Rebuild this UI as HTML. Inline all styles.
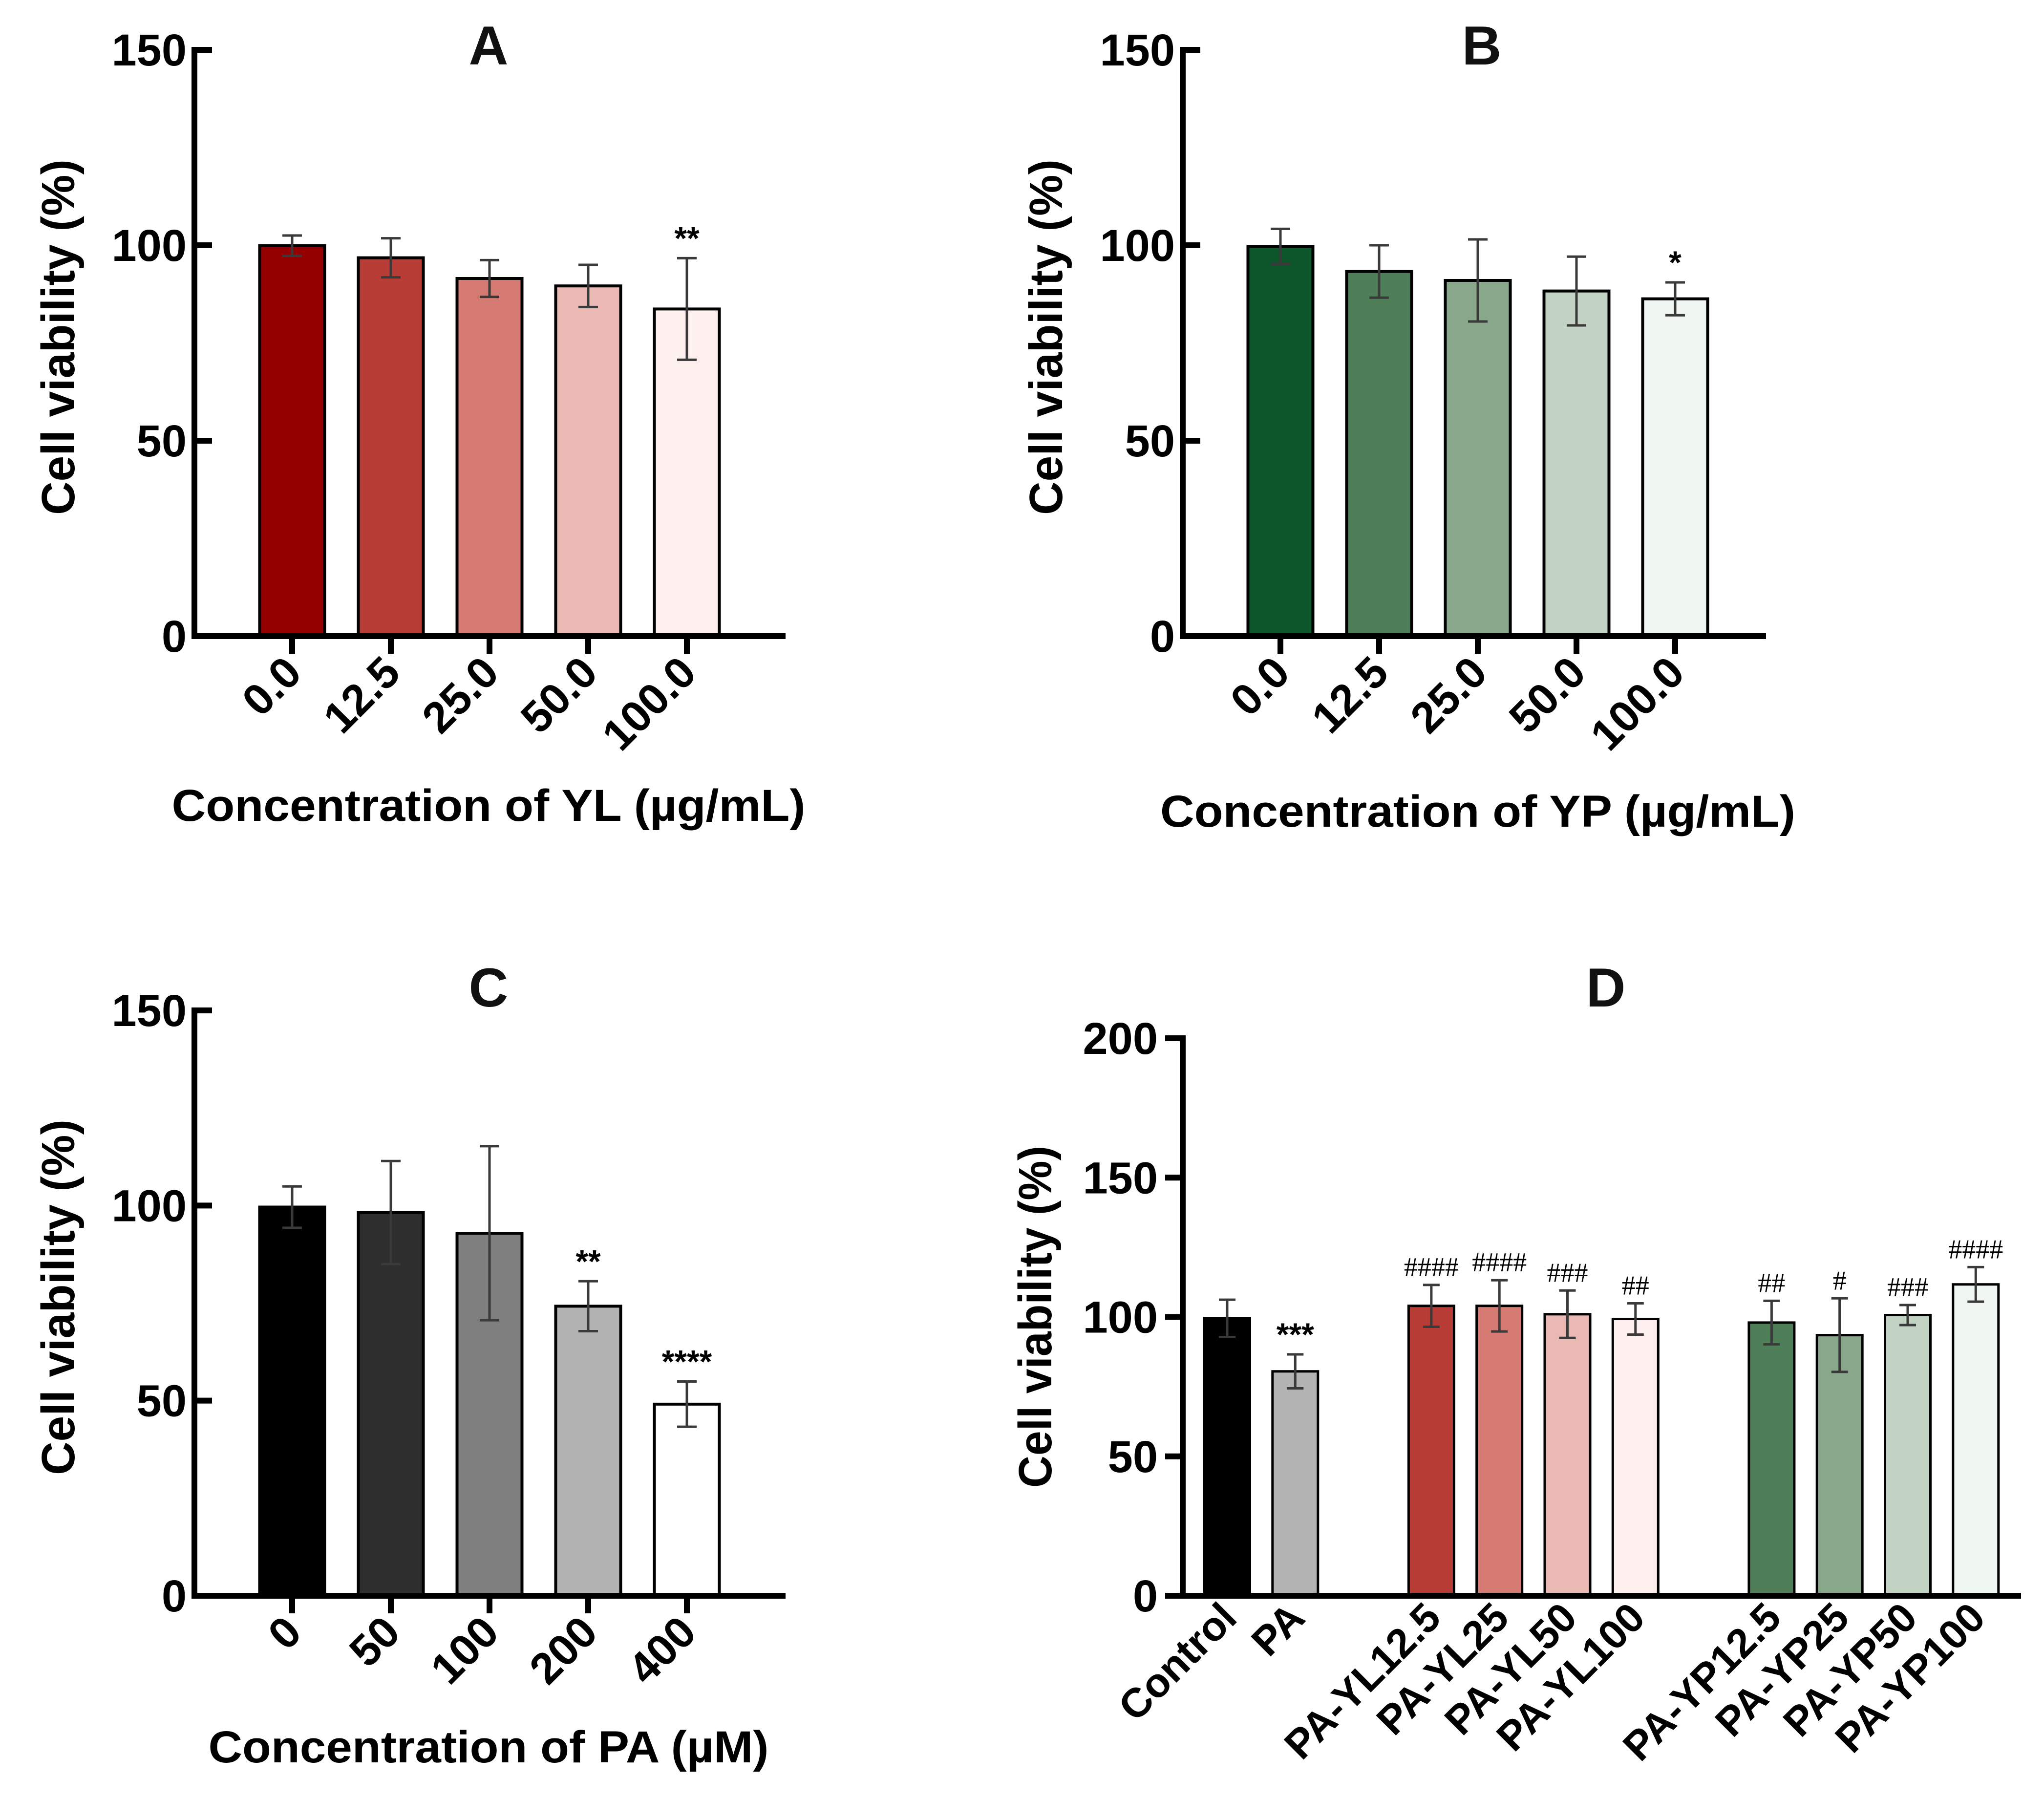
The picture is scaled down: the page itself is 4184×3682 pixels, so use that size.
<!DOCTYPE html>
<html><head><meta charset="utf-8"><style>
html,body{margin:0;padding:0;background:#fff;}
svg{display:block;font-family:"Liberation Sans",Arial,sans-serif;font-weight:bold;}
</style></head><body>
<svg id="fig" width="4184" height="3682" viewBox="0 0 4184 3682" xmlns="http://www.w3.org/2000/svg"></svg>
<script>
// Panel A data
const catsA = ["0.0","12.5","25.0","50.0","100.0"];
const valsA = [99.9,96.8,91.5,89.6,83.7];
const errA = [2.6,5,4.7,5.4,13];
const sigA = ["","","","","**"];
const colA = ["#940000","#b83d36","#d47a72","#ebb9b4","#fdefed"];
// Panel B data
const catsB = ["0.0","12.5","25.0","50.0","100.0"];
const valsB = [99.7,93.3,91,88.3,86.3];
const errB = [4.5,6.7,10.5,8.8,4.2];
const sigB = ["","","","","*"];
const colB = ["#0d552b","#4e7f58","#89a88b","#c2d3c4","#eff5f0"];
// Panel C data
const catsC = ["0","50","100","200","400"];
const valsC = [99.6,98.2,92.9,74.2,49.1];
const errC = [5.3,13.2,22.3,6.4,5.8];
const sigC = ["","","","**","****"];
const colC = ["#000000","#2e2e2e","#7f7f7f","#b2b2b2","#ffffff"];
// Panel D data
const catsD = ["Control","PA","PA-YL12.5","PA-YL25","PA-YL50","PA-YL100","PA-YP12.5","PA-YP25","PA-YP50","PA-YP100"];
const slotD = [0,1,3,4,5,6,8,9,10,11];
const valsD = [99.5,80.5,104,104,101,99.3,98,93.5,100.7,111.7];
const errD = [6.7,6.1,7.5,9.2,8.5,5.6,7.8,13.2,3.6,6.2];
const sigD = ["","***","####","####","###","##","##","#","###","####"];
const colD = ["#000000","#b3b3b3","#b83d36","#d47a72","#ebb9b4","#fdefed","#4e7f58","#89a88b","#c2d3c4","#eff5f0"];
const ticksABC = [0,50,100,150];
const ticksD = [0,50,100,150,200];

const NS="http://www.w3.org/2000/svg";
const svg=document.getElementById('fig');
function mk(tag,attrs,parent){const e=document.createElementNS(NS,tag);for(const k in attrs)e.setAttribute(k,attrs[k]);(parent||svg).appendChild(e);return e;}

function panel(o){
  const g=mk('g',{});
  
  
  const y=v=>o.y0-(v/o.ymax)*(o.y0-o.ytop);
  const x=i=>o.x0+o.first+i*o.step;
  o.vals.forEach((v,i)=>{
    const cx=x(o.slots?o.slots[i]:i);
    const r=mk('rect',{x:cx-o.bw/2,y:y(v),width:o.bw,height:o.y0-y(v),fill:o.cols[i],stroke:'#000','stroke-width':o.sw},g);
    
    
  });
  o.vals.forEach((v,i)=>{
    const cx=x(o.slots?o.slots[i]:i);
    const eg=mk('g',{stroke:'#3a3a3a','stroke-width':5,fill:'none'},g);
    
    
    const hi=y(v+o.err[i]),lo=y(v-o.err[i]);
    mk('line',{x1:cx,x2:cx,y1:hi,y2:lo},eg);
    mk('line',{x1:cx-o.cap,x2:cx+o.cap,y1:hi,y2:hi},eg);
    mk('line',{x1:cx-o.cap,x2:cx+o.cap,y1:lo,y2:lo},eg);
    if(o.sig[i]){
      const isHash=o.sig[i][0]=='#';
      const t=mk('text',{x:cx,y:hi-18,'text-anchor':'middle','font-size':isHash?o.hashSize:o.sigSize,'font-weight':isHash?'normal':'bold',fill:'#000','font-family':isHash?'"Liberation Serif",serif':'"Liberation Sans",sans-serif'},g);
      t.textContent=o.sig[i];
      
      
    }
  });
  const ax=mk('g',{stroke:'#000','stroke-width':12,fill:'none'},g);
  
  
  mk('line',{x1:o.x0,x2:o.x0,y1:o.ytop-6,y2:o.y0+6},ax);
  mk('line',{x1:o.xaxStart,x2:o.xend,y1:o.y0,y2:o.y0},ax);
  o.ticks.forEach(t=>{
    const ty=y(t);
    if(o.inward){ if(t>0) mk('line',{x1:o.x0,x2:o.x0+36,y1:ty,y2:ty},ax);}
    else mk('line',{x1:o.x0-36,x2:o.x0,y1:ty,y2:ty},ax);
    const tl=mk('text',{x:o.tickLabelX,y:ty+32,'text-anchor':'end','font-size':92,fill:'#000'},g);
    tl.textContent=t;
    
    
  });
  o.cats.forEach((c,i)=>{
    const cx=x(o.slots?o.slots[i]:i);
    if(o.xticks) mk('line',{x1:cx,x2:cx,y1:o.y0,y2:o.y0+36},ax);
    const lx=cx+o.lblDx, ly=o.y0+o.lblDy;
    const tl=mk('text',{x:lx,y:ly,'text-anchor':'end','font-size':o.lblSize,fill:'#000',transform:`rotate(-45 ${lx} ${ly})`},g);
    tl.textContent=c;
    
    
  });
  const yt=mk('text',{x:o.ytX,y:o.ytY,'text-anchor':'middle','font-size':96,fill:'#000',transform:`rotate(-90 ${o.ytX} ${o.ytY})`,textLength:o.ytLen,lengthAdjust:'spacingAndGlyphs'},g);
  yt.textContent='Cell viability (%)';
  
  
  if(o.xtitle){
    const xt=mk('text',{x:o.xtX,y:o.xtY,'text-anchor':'middle','font-size':92,fill:'#000',textLength:o.xtLen,lengthAdjust:'spacingAndGlyphs'},g);
    xt.textContent=o.xtitle;
    
    
  }
  const pt=mk('text',{x:o.ptX,y:o.ptY,'text-anchor':'middle','font-size':112,fill:'#111'},g);
  pt.textContent=o.letter;
  
  
}
const common={ymax:150,ticks:ticksABC,first:200,step:202,bw:133,sw:6,cap:20,sigSize:66,hashSize:60,inward:true,xticks:true,lblDx:24,lblDy:80,lblSize:90,ytLen:728};
panel(Object.assign({},common,{name:'panel-a',letter:'A',x0:398,xaxStart:392,xend:1608,y0:1302,ytop:102,cats:catsA,vals:valsA,err:errA,sig:sigA,cols:colA,tickLabelX:382,ytX:152,ytY:690,xtitle:'Concentration of YL (µg/mL)',xtX:1000,xtY:1680,xtLen:1297,ptX:1000,ptY:132}));
panel(Object.assign({},common,{name:'panel-b',letter:'B',x0:2421,xaxStart:2415,xend:3615,y0:1302,ytop:102,cats:catsB,vals:valsB,err:errB,sig:sigB,cols:colB,tickLabelX:2405,ytX:2174,ytY:690,xtitle:'Concentration of YP (µg/mL)',xtX:3025,xtY:1692,xtLen:1300,ptX:3033,ptY:132}));
panel(Object.assign({},common,{name:'panel-c',letter:'C',x0:398,xaxStart:392,xend:1608,y0:3266,ytop:2068,cats:catsC,vals:valsC,err:errC,sig:sigC,cols:colC,tickLabelX:382,ytX:152,ytY:2655,xtitle:'Concentration of PA (µM)',xtX:1000,xtY:3607,xtLen:1147,ptX:1000,ptY:2060}));
panel({name:'panel-d',letter:'D',ymax:200,ticks:ticksD,x0:2421,xaxStart:2386,xend:4137,y0:3266,ytop:2125,first:91,step:139.3,slots:slotD,bw:93,sw:5,cap:17,sigSize:66,hashSize:56,inward:false,xticks:false,lblDx:24,lblDy:50,lblSize:84,ytLen:700,cats:catsD,vals:valsD,err:errD,sig:sigD,cols:colD,tickLabelX:2370,ytX:2152,ytY:2695,xtitle:'',ptX:3287,ptY:2060});
</script>
</body></html>
